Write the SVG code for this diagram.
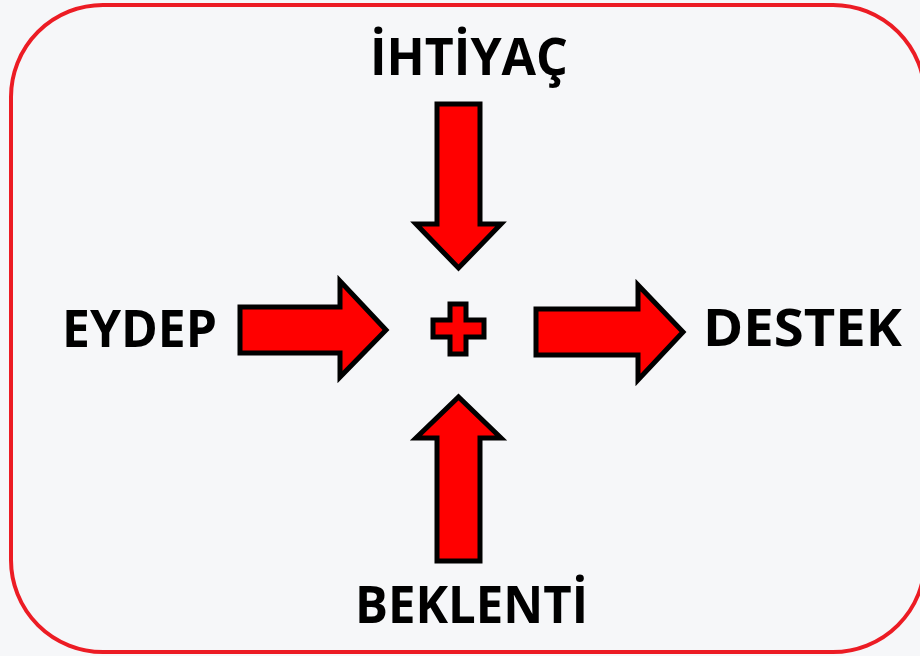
<svg xmlns="http://www.w3.org/2000/svg" width="920" height="656" viewBox="0 0 920 656">
<style>
.lbl{font-family:"Open Sans","Liberation Sans",sans-serif;font-weight:bold;font-size:52px;fill:#000}
.arr{fill:#ff0000;stroke:#000;stroke-width:5;stroke-linejoin:miter;stroke-miterlimit:10}
</style>
<rect x="0" y="0" width="920" height="656" fill="#f6f7f9"/>
<rect x="11" y="5" width="914" height="647" rx="92" ry="92" fill="none" stroke="#ec1c24" stroke-width="4"/>
<g id="ihtiyac"><text class="lbl" x="370" y="75" textLength="198" lengthAdjust="spacingAndGlyphs">İHTİYAÇ</text></g>
<g id="eydep"><text class="lbl" x="62" y="347" textLength="155" lengthAdjust="spacingAndGlyphs">EYDEP</text></g>
<g id="destek"><text class="lbl" x="703" y="346" textLength="199" lengthAdjust="spacingAndGlyphs">DESTEK</text></g>
<g id="beklenti"><text class="lbl" x="355" y="623" textLength="233" lengthAdjust="spacingAndGlyphs">BEKLENTİ</text></g>
<g id="plus"><polygon class="arr" points="450,304 466,304 466,320 484,320 484,337 466,337 466,354 450,354 450,337 433,337 433,320 450,320"/></g>
<g id="connectors">
<polygon class="arr" points="437,104 480,104 480,224 501,224 458.5,268 416,224 437,224"/>
<polygon class="arr" points="437,561 480,561 480,438 501,438 458.5,397 416,438 437,438"/>
<polygon class="arr" points="240,307 340,307 340,281 386,330 340,377 340,353 240,353"/>
<polygon class="arr" points="536,309 638,309 638,285 683,332 638,380 638,355 536,355"/>
</g>
</svg>
